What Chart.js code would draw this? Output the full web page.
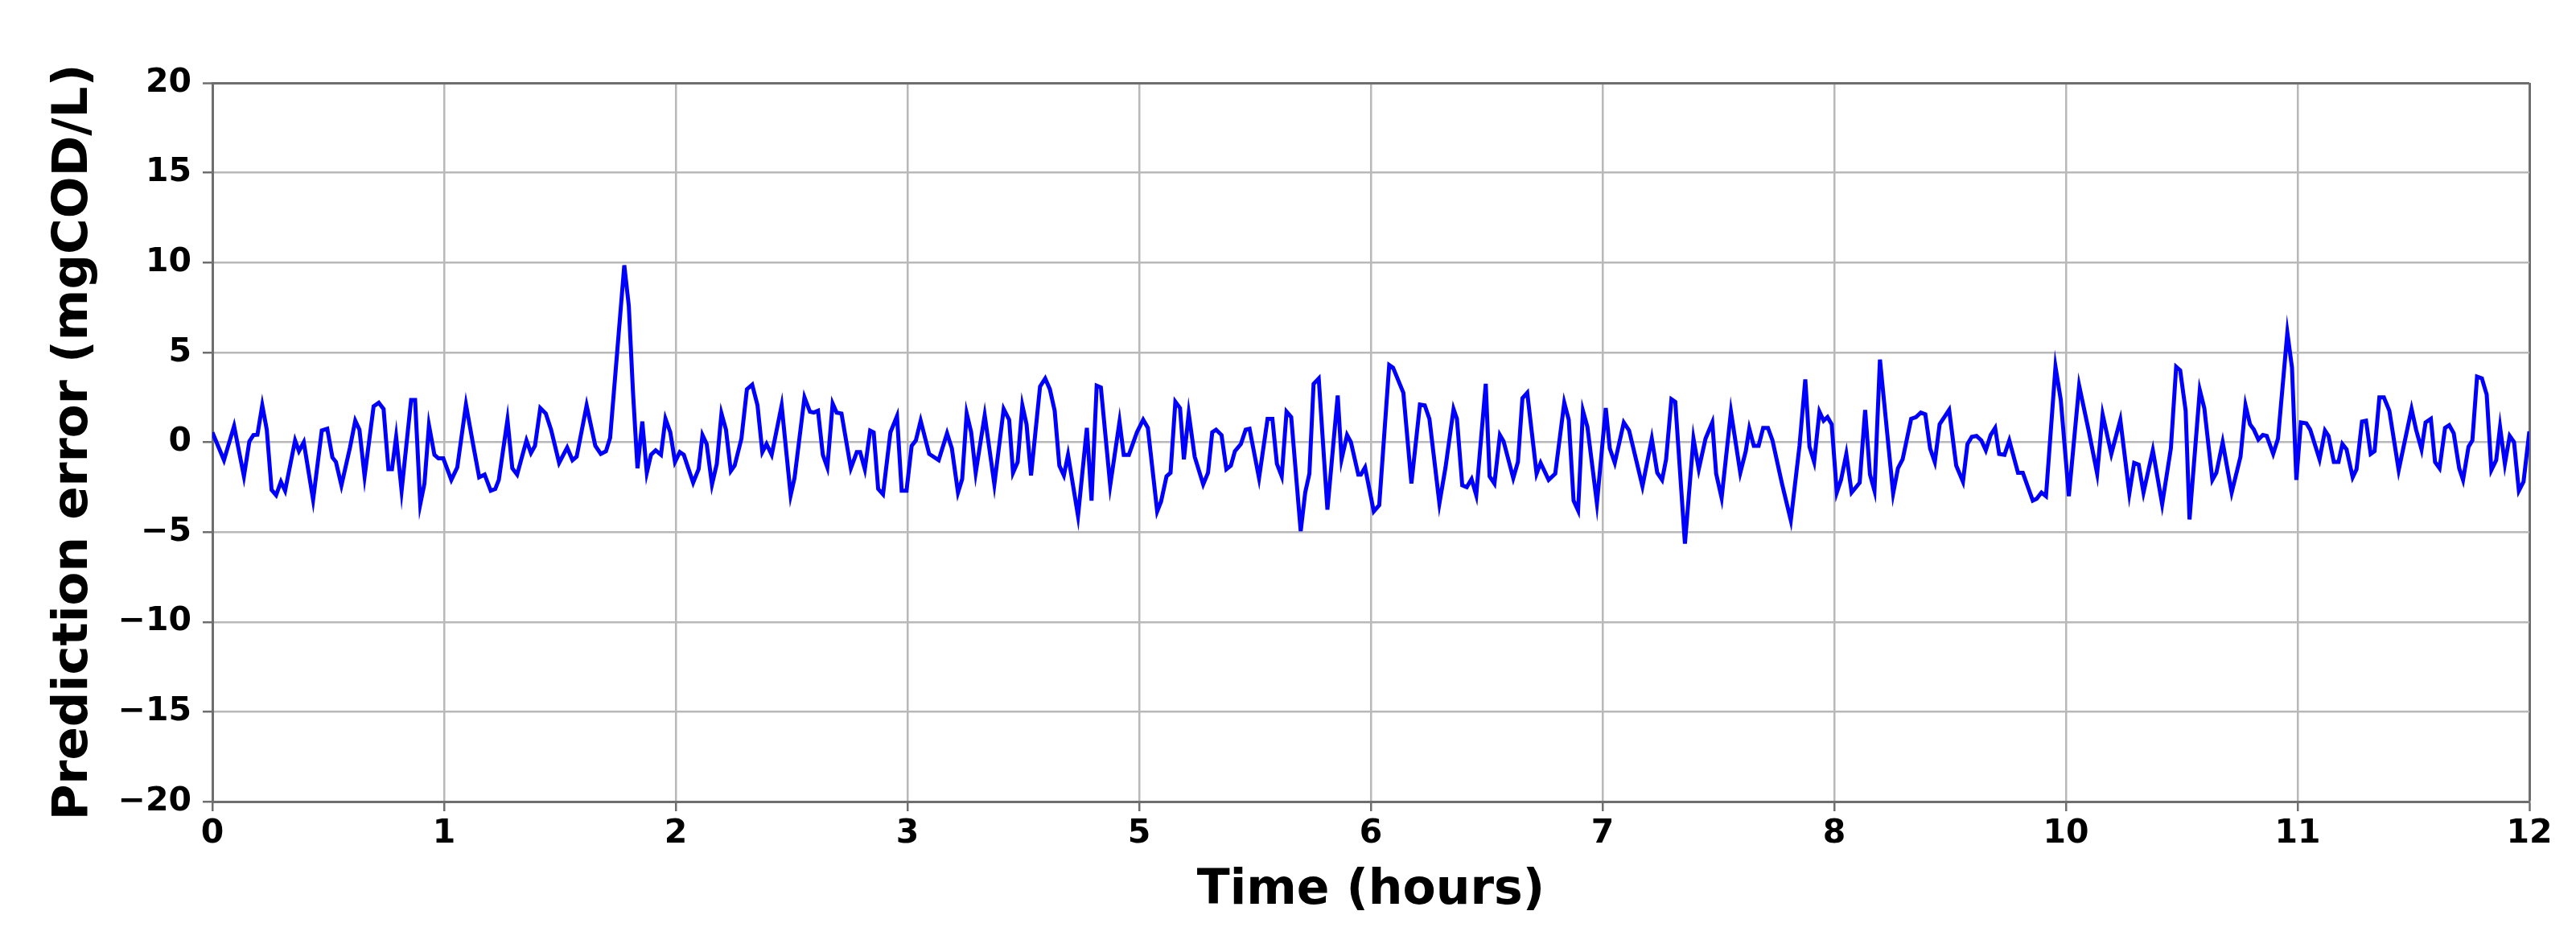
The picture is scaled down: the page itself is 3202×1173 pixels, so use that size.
<!DOCTYPE html>
<html>
<head>
<meta charset="utf-8">
<script src="https://cdn.jsdelivr.net/npm/chart.js@4.4.1/dist/chart.umd.min.js"></script>
<style>
html,body{margin:0;padding:0;background:#fff;}
canvas{display:block;}
</style>
</head>
<body>
<canvas id="c" width="3202" height="1173" style="width:3202px;height:1173px"></canvas>
<script>
// Time positions (minutes, 0..720 spans the axis) and prediction error values (mgCOD/L)
const timeMin = [
0,3.6,6.75,9.8,11.5,12.75,14,15.5,16.9,18.4,19.8,21.3,22.6,25.7,26.9,28.4,31.3,34,35.7,37.3,38.4,40.1,42.75,44.4,45.7,47.3,50.1,51.7,53.2,54.7,55.8,57.1,58.8,61.75,63,64.6,65.9,67.3,69,70.25,71.75,74.25,76.1,78.8,81.1,82.9,84.6,86.5,87.9,
89,91.7,93.2,94.7,97.6,99,100.25,101.9,103.6,105.25,107.75,110.25,111.9,113.2,116.3,119,120.7,122.3,123.6,128,129.4,130.7,132.1,133.6,135,136.3,137.75,139.4,140.8,142.3,143.75,145.25,146.5,149.4,151.1,152.3,153.6,155.25,156.75,158.2,159.6,161.1,162.3,164.4,166.1,167.75,169.4,170.9,172.2,173.8,176.9,179.7,
180.9,184,185.7,186.9,188.2,189.7,191.1,192.75,194,195.5,198.4,200.25,201.3,202.75,204.4,205.5,206.9,208.4,210.7,212.75,214.2,215.7,217.3,218.6,220.1,222.75,225.7,228.3,229.8,231.7,233,234.4,235.8,237.2,240,243,245.9,247.6,248.8,250.25,251.7,253,254.4,257.2,258.8,260.25,261.75,263.2,264.6,265.9,269,
271.75,273.2,274.8,276.1,279,281.9,283.2,284.8,287.3,289.25,290.7,293.6,294.8,296.5,297.75,299.25,300.7,301.9,303.4,305.25,307.9,309.4,310.7,311.9,313.6,315.1,316.5,317.75,319.6,321.1,322.3,325.25,327.9,329.4,330.8,332.3,333.8,335.25,338.2,339.6,340.9,342.2,343.8,346.5,349.7,350.9,352.6,353.8,356.1,356.9,358.2,360.9,
362.6,365.7,366.9,370.1,372.6,375.25,376.75,378.2,381.3,383.2,385.7,386.75,388.4,389.8,391.3,392.75,395.7,396.9,398.4,400.1,401.25,404.25,405.7,407.1,408.6,411.5,412.75,415.25,417.3,420.1,421.5,423,424.4,425.9,427.3,430.25,433,434.25,435.8,438.6,440.25,444.4,447.3,
449,450.5,451.75,453.4,454.6,457.6,460.25,461.9,464,466.1,467.3,469,471.9,474.8,476.5,477.6,479,480.5,481.9,483.4,484.8,487.75,490.5,493.2,495,496.3,497.75,499.4,500.7,501.9,503.2,504.8,506.1,507.75,509.4,511.9,513.6,515.1,516.5,518.2,522.3,523.8,525.25,527.9,529.4,530.9,532.3,533.8,535.25,536.75,539.7,
541.9,544,545.4,546.75,548.2,549.7,551.1,552.6,554,555.25,556.9,558.4,561.1,562.6,565.7,566.9,568.4,569.8,572.75,574.4,576.9,580.1,583,585.7,587.4,590.1,592.9,595.7,597.2,598.6,600.1,603,605.9,608.6,610.25,611.5,613.2,614.4,617.6,619,621.5,622.75,624.7,627.5,630.25,631.8,
633.2,634.4,635.8,637.2,638.4,640.4,641.9,644.8,646.25,647.6,649,650.7,651.9,654.8,656.5,657.6,659.25,660.7,661.9,663.2,665.1,666.3,668,669.25,670.7,671.9,673.4,674.8,676.5,679.4,683.4,684.8,686.5,687.75,689.4,690.7,692.1,693.8,695.1,696.5,698.2,699.4,701.1,702.3,703.75,705.25,706.75,708.2,709.7,710.9,712.4,713.9,715.25,716.75,718.2,720
];
const errorVal = [
0.55,-1.0,0.9,-1.9,0.05,0.4,0.42,2.06,0.7,-2.65,-2.95,-2.2,-2.7,0.1,-0.5,0,-3.2,0.65,0.75,-0.85,-1.1,-2.4,-0.3,1.2,0.7,-1.9,2.0,2.2,1.85,-1.5,-1.5,0.3,-2.7,2.35,2.35,-3.45,-2.3,0.95,-0.7,-0.9,-0.9,-2.1,-1.4,2.1,-0.2,-1.95,-1.8,-2.7,-2.6,
-2.1,1.25,-1.45,-1.8,0.1,-0.6,-0.2,1.9,1.6,0.7,-1.15,-0.3,-1.0,-0.8,2.05,-0.2,-0.65,-0.5,0.25,9.85,7.6,2.8,-1.45,1.15,-1.7,-0.7,-0.45,-0.7,1.3,0.55,-1.1,-0.55,-0.7,-2.25,-1.5,0.4,-0.1,-2.35,-1.2,1.6,0.7,-1.6,-1.3,0.2,2.95,3.2,2.05,-0.55,-0.1,-0.7,2.05,-2.95,
-2.0,2.5,1.7,1.65,1.75,-0.7,-1.4,2.15,1.65,1.6,-1.45,-0.55,-0.55,-1.5,0.65,0.55,-2.6,-2.9,0.55,1.45,-2.7,-2.7,-0.2,0.1,1.2,-0.65,-1.0,0.5,-0.35,-2.8,-2.05,1.6,0.55,-1.7,1.5,-2.35,1.85,1.25,-1.7,-1.1,2.05,1.0,-1.85,3.1,3.55,2.95,1.75,-1.3,-1.85,-0.7,-4.1,
0.8,-3.25,3.15,3.05,-2.4,1.15,-0.7,-0.7,0.55,1.25,0.8,-3.85,-3.3,-1.9,-1.7,2.25,1.9,-0.95,1.6,-0.8,-2.35,-1.7,0.55,0.7,0.4,-1.5,-1.3,-0.5,-0.1,0.7,0.75,-2.0,1.3,1.3,-1.2,-1.9,1.7,1.4,-4.95,-2.8,-1.75,3.25,3.55,-3.75,2.6,-0.95,0.4,0,-1.8,-1.8,-1.4,-3.85,
-3.5,4.3,4.15,2.75,-2.3,2.1,2.05,1.3,-3.4,-1.4,1.85,1.3,-2.4,-2.5,-2.05,-2.95,3.25,-1.9,-2.3,0.4,0.05,-2.0,-1.1,2.45,2.75,-1.75,-1.15,-2.1,-1.75,2.2,1.25,-3.25,-3.8,1.75,0.85,-3.4,1.9,-0.35,-1.15,1.1,0.65,-2.45,0.2,
-1.7,-2.1,-0.95,2.4,2.25,-5.65,0.2,-1.5,0.2,1.1,-1.75,-3.1,1.7,-1.7,-0.5,0.75,-0.2,-0.2,0.8,0.8,0.1,-2.3,-4.35,-0.2,3.5,-0.25,-1.1,1.7,1.2,1.4,1.0,-2.8,-2.1,-0.65,-2.8,-2.25,1.8,-1.8,-2.7,4.6,-2.85,-1.45,-0.95,1.3,1.4,1.65,1.55,-0.35,-1.1,1.0,1.8,
-1.3,-2.2,-0.1,0.3,0.35,0.1,-0.45,0.4,0.8,-0.65,-0.7,0.1,-1.7,-1.7,-3.25,-3.15,-2.8,-3.0,4.2,2.35,-3.0,3.15,0.7,-1.75,1.55,-0.65,1.25,-2.85,-1.15,-1.25,-2.8,-0.45,-3.45,-0.35,4.2,4.0,1.75,-4.3,2.9,1.9,-2.1,-1.7,0,-2.8,-0.8,2.05,
1.0,0.7,0.15,0.4,0.35,-0.65,0.2,6.1,4.15,-2.1,1.1,1.05,0.7,-0.95,0.65,0.35,-1.1,-1.1,-0.1,-0.4,-1.95,-1.5,1.15,1.2,-0.65,-0.5,2.5,2.5,1.75,-1.55,1.85,0.7,-0.4,1.1,1.3,-1.1,-1.45,0.8,0.95,0.5,-1.45,-2.1,-0.25,0.1,3.65,3.55,2.65,-1.55,-1.0,0.85,-1.2,0.35,0,-2.7,-2.2,0.6
];
// Tick positions and labels as printed on the reference
const xTickPos = [0,72,144,216,288,360,432,504,576,648,720];
const xTickLabels = ['0','1','2','3','5','6','7','8','10','11','12'];
const yTickPos = [-20,-15,-10,-5,0,5,10,15,20];
const yTickLabels = ['\u221220','\u221215','\u221210','\u22125','0','5','10','15','20'];

const points = timeMin.map((t,i)=>({x:t,y:errorVal[i]}));
const FONT = 'DejaVu Sans';
const gridCol = '#b8b8b8', frameCol = '#6e6e6e';

new Chart(document.getElementById('c'), {
  type: 'line',
  data: { datasets: [{
    data: points,
    borderColor: '#0000ff',
    borderWidth: 5,
    pointRadius: 0,
    tension: 0,
    fill: false
  }]},
  options: {
    responsive: false,
    devicePixelRatio: 1,
    animation: false,
    plugins: { legend: {display:false}, tooltip: {enabled:false} },
    layout: { padding: { top: 103, right: 58, left: 0, bottom: 0 } },
    scales: {
      x: {
        type: 'linear', min: 0, max: 720,
        afterBuildTicks: s => { s.ticks = xTickPos.map(v=>({value:v})); },
        afterFit: s => { s.height = 177; },
        ticks: {
          autoSkip: false, maxRotation: 0, padding: 4,
          color: '#000',
          font: { family: FONT, size: 41, weight: 'bold' },
          callback: (v, i) => xTickLabels[i]
        },
        grid: {
          color: c => (c.tick && c.tick.value === 720) ? frameCol : gridCol,
          lineWidth: c => (c.tick && c.tick.value === 720) ? 3 : 2.5,
          tickColor: frameCol, tickLength: 12, tickWidth: 2.5
        },
        border: { color: frameCol, width: 3 },
        title: {
          display: true, text: 'Time (hours)', color: '#000',
          font: { family: FONT, size: 60, weight: 'bold' },
          padding: { top: 0, bottom: 30 }
        }
      },
      y: {
        type: 'linear', min: -20, max: 20,
        afterBuildTicks: s => { s.ticks = yTickPos.map(v=>({value:v})); },
        afterFit: s => { s.width = 264; },
        ticks: {
          autoSkip: false, padding: 14, color: '#000',
          font: { family: FONT, size: 41, weight: 'bold' },
          callback: (v, i) => yTickLabels[i]
        },
        grid: {
          color: c => (c.tick && c.tick.value === 20) ? frameCol : gridCol,
          lineWidth: c => (c.tick && c.tick.value === 20) ? 3 : 2.5,
          tickColor: frameCol, tickLength: 12, tickWidth: 2.5
        },
        border: { color: frameCol, width: 3 },
        title: {
          display: true, text: 'Prediction error (mgCOD/L)', color: '#000',
          font: { family: FONT, size: 61, weight: 'bold' },
          padding: { top: 56, bottom: 0 }
        }
      }
    }
  }
});
</script>
</body>
</html>
